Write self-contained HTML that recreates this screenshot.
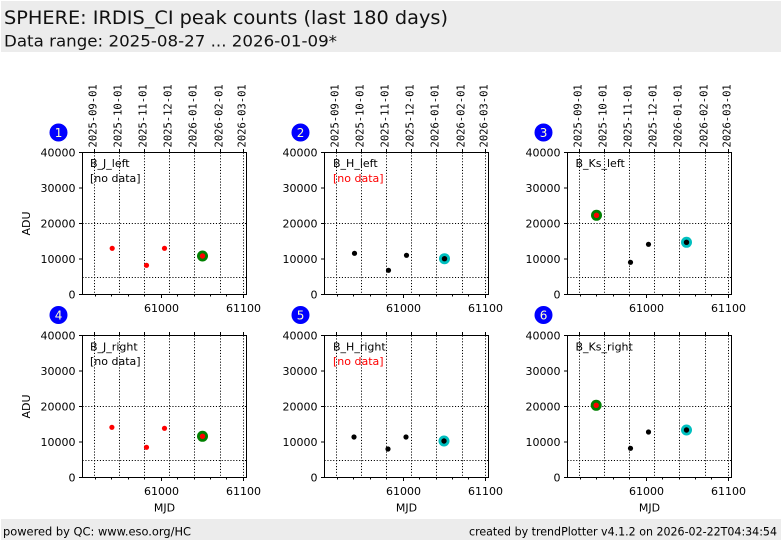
<!DOCTYPE html>
<html><head><meta charset="utf-8"><style>
html,body{margin:0;padding:0;background:#fff;}
svg{display:block;}
text{font-family:"DejaVu Sans","Liberation Sans",sans-serif;fill:#000;}
.mono{font-family:"DejaVu Sans Mono","Liberation Mono",monospace;font-size:10.5px;}
.tk{font-size:11px;}
.grid{stroke:#000;stroke-width:1;stroke-dasharray:1.1,1.8;fill:none;}
.ax{stroke:#000;stroke-width:1;fill:none;}
.bn{font-size:12px;fill:#ffffcc;}
</style></head><body>
<svg width="782" height="542" viewBox="0 0 782 542" xmlns="http://www.w3.org/2000/svg">
<rect x="1" y="1" width="780" height="51" fill="#ececec"/>
<text x="4" y="24" font-size="19" textLength="444" lengthAdjust="spacingAndGlyphs" style="fill:#111">SPHERE: IRDIS_CI peak counts (last 180 days)</text>
<text x="4" y="46.5" font-size="16" textLength="333" lengthAdjust="spacingAndGlyphs" style="fill:#111">Data range: 2025-08-27 ... 2026-01-09*</text>
<rect x="1" y="519" width="780" height="21" fill="#ececec"/>
<text x="3" y="535.5" font-size="11.5" textLength="188" lengthAdjust="spacingAndGlyphs">powered by QC: www.eso.org/HC</text>
<text x="469" y="535.5" font-size="11.5" textLength="308" lengthAdjust="spacingAndGlyphs">created by trendPlotter v4.1.2 on 2026-02-22T04:34:54</text>

<!-- Panel 1 -->
<g transform="translate(82.5,152.5)">
 <path class="grid" d="M12 0V142M37 0V142M62 0V142M87 0V142M112 0V142M138 0V142M161 0V142M0 71H164M0 125H164"/>
 <rect class="ax" x="0" y="0" width="164" height="142"/>
 <path class="ax" d="M0 0h-3.5M0 35.5h-3.5M0 71h-3.5M0 106.5h-3.5M0 142h-3.5M13 142v2M29 142v2M46 142v2M62 142v2M79 142v3.5M95 142v2M112 142v2M128 142v2M144 142v2M161 142v3.5M12 0v-3.5M37 0v-3.5M62 0v-3.5M87 0v-3.5M112 0v-3.5M138 0v-3.5M161 0v-3.5"/>
 <g class="tk" text-anchor="end"><text x="-7" y="4">40000</text><text x="-7" y="39.5">30000</text><text x="-7" y="75">20000</text><text x="-7" y="110.5">10000</text><text x="-7" y="146">0</text></g>
 <g class="tk" text-anchor="middle"><text x="79" y="159.5">61000</text><text x="161" y="159.5">61100</text></g>
 <text class="mono" transform="translate(13.8,-5) rotate(-90)">2025-09-01</text>
 <text class="mono" transform="translate(38.8,-5) rotate(-90)">2025-10-01</text>
 <text class="mono" transform="translate(63.8,-5) rotate(-90)">2025-11-01</text>
 <text class="mono" transform="translate(88.8,-5) rotate(-90)">2025-12-01</text>
 <text class="mono" transform="translate(113.8,-5) rotate(-90)">2026-01-01</text>
 <text class="mono" transform="translate(139.8,-5) rotate(-90)">2026-02-01</text>
 <text class="mono" transform="translate(162.8,-5) rotate(-90)">2026-03-01</text>
 <text class="tk" transform="translate(-52.5,71) rotate(-90)" text-anchor="middle">ADU</text>
 <circle cx="-24" cy="-20" r="9" fill="#0000ff"/><text class="bn" x="-24" y="-15.5" text-anchor="middle">1</text>
 <text class="tk" x="7.5" y="14.5">B_J_left</text>
 <text class="tk" x="7.5" y="29.5">[no data]</text>
 <circle cx="29.7" cy="95.8" r="2.6" fill="#ff0000"/>
 <circle cx="64" cy="112.8" r="2.6" fill="#ff0000"/>
 <circle cx="82" cy="95.8" r="2.6" fill="#ff0000"/>
 <circle cx="120" cy="103.5" r="5.5" fill="#008000"/><circle cx="120" cy="103.5" r="2.7" fill="#ff0000"/>
</g>

<!-- Panel 2 -->
<g transform="translate(324.5,152.5)">
 <path class="grid" d="M12 0V142M37 0V142M62 0V142M87 0V142M112 0V142M138 0V142M161 0V142M0 71H164M0 125H164"/>
 <rect class="ax" x="0" y="0" width="164" height="142"/>
 <path class="ax" d="M0 0h-3.5M0 35.5h-3.5M0 71h-3.5M0 106.5h-3.5M0 142h-3.5M13 142v2M29 142v2M46 142v2M62 142v2M79 142v3.5M95 142v2M112 142v2M128 142v2M144 142v2M161 142v3.5M12 0v-3.5M37 0v-3.5M62 0v-3.5M87 0v-3.5M112 0v-3.5M138 0v-3.5M161 0v-3.5"/>
 <g class="tk" text-anchor="end"><text x="-7" y="4">40000</text><text x="-7" y="39.5">30000</text><text x="-7" y="75">20000</text><text x="-7" y="110.5">10000</text><text x="-7" y="146">0</text></g>
 <g class="tk" text-anchor="middle"><text x="79" y="159.5">61000</text><text x="161" y="159.5">61100</text></g>
 <text class="mono" transform="translate(13.8,-5) rotate(-90)">2025-09-01</text>
 <text class="mono" transform="translate(38.8,-5) rotate(-90)">2025-10-01</text>
 <text class="mono" transform="translate(63.8,-5) rotate(-90)">2025-11-01</text>
 <text class="mono" transform="translate(88.8,-5) rotate(-90)">2025-12-01</text>
 <text class="mono" transform="translate(113.8,-5) rotate(-90)">2026-01-01</text>
 <text class="mono" transform="translate(139.8,-5) rotate(-90)">2026-02-01</text>
 <text class="mono" transform="translate(162.8,-5) rotate(-90)">2026-03-01</text>
 <circle cx="-24" cy="-20" r="9" fill="#0000ff"/><text class="bn" x="-24" y="-15.5" text-anchor="middle">2</text>
 <text class="tk" x="8.5" y="14.5">B_H_left</text>
 <text class="tk" x="8.5" y="29.5" style="fill:#ff0000">[no data]</text>
 <circle cx="30" cy="100.8" r="2.6" fill="#000"/>
 <circle cx="64" cy="117.8" r="2.6" fill="#000"/>
 <circle cx="82" cy="102.8" r="2.6" fill="#000"/>
 <circle cx="120" cy="106.2" r="5.5" fill="#00bfbf"/><circle cx="120" cy="106.2" r="2.7" fill="#000"/>
</g>

<!-- Panel 3 -->
<g transform="translate(567.5,152.5)">
 <path class="grid" d="M12 0V142M37 0V142M62 0V142M87 0V142M112 0V142M138 0V142M161 0V142M0 71H164M0 125H164"/>
 <rect class="ax" x="0" y="0" width="164" height="142"/>
 <path class="ax" d="M0 0h-3.5M0 35.5h-3.5M0 71h-3.5M0 106.5h-3.5M0 142h-3.5M13 142v2M29 142v2M46 142v2M62 142v2M79 142v3.5M95 142v2M112 142v2M128 142v2M144 142v2M161 142v3.5M12 0v-3.5M37 0v-3.5M62 0v-3.5M87 0v-3.5M112 0v-3.5M138 0v-3.5M161 0v-3.5"/>
 <g class="tk" text-anchor="end"><text x="-7" y="4">40000</text><text x="-7" y="39.5">30000</text><text x="-7" y="75">20000</text><text x="-7" y="110.5">10000</text><text x="-7" y="146">0</text></g>
 <g class="tk" text-anchor="middle"><text x="79" y="159.5">61000</text><text x="161" y="159.5">61100</text></g>
 <text class="mono" transform="translate(13.8,-5) rotate(-90)">2025-09-01</text>
 <text class="mono" transform="translate(38.8,-5) rotate(-90)">2025-10-01</text>
 <text class="mono" transform="translate(63.8,-5) rotate(-90)">2025-11-01</text>
 <text class="mono" transform="translate(88.8,-5) rotate(-90)">2025-12-01</text>
 <text class="mono" transform="translate(113.8,-5) rotate(-90)">2026-01-01</text>
 <text class="mono" transform="translate(139.8,-5) rotate(-90)">2026-02-01</text>
 <text class="mono" transform="translate(162.8,-5) rotate(-90)">2026-03-01</text>
 <circle cx="-24" cy="-20" r="9" fill="#0000ff"/><text class="bn" x="-24" y="-15.5" text-anchor="middle">3</text>
 <text class="tk" x="8" y="14.5">B_Ks_left</text>
 <circle cx="29" cy="62.8" r="5.5" fill="#008000"/><circle cx="29" cy="62.8" r="2.7" fill="#ff0000"/>
 <circle cx="63" cy="109.8" r="2.6" fill="#000"/>
 <circle cx="81" cy="91.8" r="2.6" fill="#000"/>
 <circle cx="119" cy="89.8" r="5.5" fill="#00bfbf"/><circle cx="119" cy="89.8" r="2.7" fill="#000"/>
</g>

<!-- Panel 4 -->
<g transform="translate(82.5,335.5)">
 <path class="grid" d="M12 0V142M37 0V142M62 0V142M87 0V142M112 0V142M138 0V142M161 0V142M0 71H164M0 125H164"/>
 <rect class="ax" x="0" y="0" width="164" height="142"/>
 <path class="ax" d="M0 0h-3.5M0 35.5h-3.5M0 71h-3.5M0 106.5h-3.5M0 142h-3.5M13 142v2M29 142v2M46 142v2M62 142v2M79 142v3.5M95 142v2M112 142v2M128 142v2M144 142v2M161 142v3.5M12 0v-3.5M37 0v-3.5M62 0v-3.5M87 0v-3.5M112 0v-3.5M138 0v-3.5M161 0v-3.5"/>
 <g class="tk" text-anchor="end"><text x="-7" y="4">40000</text><text x="-7" y="39.5">30000</text><text x="-7" y="75">20000</text><text x="-7" y="110.5">10000</text><text x="-7" y="146">0</text></g>
 <g class="tk" text-anchor="middle"><text x="79" y="159.5">61000</text><text x="161" y="159.5">61100</text><text x="82" y="176">MJD</text></g>
 <text class="tk" transform="translate(-52.5,71) rotate(-90)" text-anchor="middle">ADU</text>
 <circle cx="-24" cy="-20.5" r="9" fill="#0000ff"/><text class="bn" x="-24" y="-16" text-anchor="middle">4</text>
 <text class="tk" x="7.5" y="15">B_J_right</text>
 <text class="tk" x="7.5" y="29.5">[no data]</text>
 <circle cx="29.4" cy="91.8" r="2.6" fill="#ff0000"/>
 <circle cx="64" cy="111.8" r="2.6" fill="#ff0000"/>
 <circle cx="82" cy="92.8" r="2.6" fill="#ff0000"/>
 <circle cx="120" cy="100.8" r="5.5" fill="#008000"/><circle cx="120" cy="100.8" r="2.7" fill="#ff0000"/>
</g>

<!-- Panel 5 -->
<g transform="translate(324.5,335.5)">
 <path class="grid" d="M12 0V142M37 0V142M62 0V142M87 0V142M112 0V142M138 0V142M161 0V142M0 71H164M0 125H164"/>
 <rect class="ax" x="0" y="0" width="164" height="142"/>
 <path class="ax" d="M0 0h-3.5M0 35.5h-3.5M0 71h-3.5M0 106.5h-3.5M0 142h-3.5M13 142v2M29 142v2M46 142v2M62 142v2M79 142v3.5M95 142v2M112 142v2M128 142v2M144 142v2M161 142v3.5M12 0v-3.5M37 0v-3.5M62 0v-3.5M87 0v-3.5M112 0v-3.5M138 0v-3.5M161 0v-3.5"/>
 <g class="tk" text-anchor="end"><text x="-7" y="4">40000</text><text x="-7" y="39.5">30000</text><text x="-7" y="75">20000</text><text x="-7" y="110.5">10000</text><text x="-7" y="146">0</text></g>
 <g class="tk" text-anchor="middle"><text x="79" y="159.5">61000</text><text x="161" y="159.5">61100</text><text x="82" y="176">MJD</text></g>
 <circle cx="-24" cy="-20.5" r="9" fill="#0000ff"/><text class="bn" x="-24" y="-16" text-anchor="middle">5</text>
 <text class="tk" x="8.5" y="15">B_H_right</text>
 <text class="tk" x="8.5" y="29.5" style="fill:#ff0000">[no data]</text>
 <circle cx="29.5" cy="101.5" r="2.6" fill="#000"/>
 <circle cx="63.5" cy="113.5" r="2.6" fill="#000"/>
 <circle cx="81.5" cy="101.5" r="2.6" fill="#000"/>
 <circle cx="119.5" cy="105.5" r="5.5" fill="#00bfbf"/><circle cx="119.5" cy="105.5" r="2.7" fill="#000"/>
</g>

<!-- Panel 6 -->
<g transform="translate(567.5,335.5)">
 <path class="grid" d="M12 0V142M37 0V142M62 0V142M87 0V142M112 0V142M138 0V142M161 0V142M0 71H164M0 125H164"/>
 <rect class="ax" x="0" y="0" width="164" height="142"/>
 <path class="ax" d="M0 0h-3.5M0 35.5h-3.5M0 71h-3.5M0 106.5h-3.5M0 142h-3.5M13 142v2M29 142v2M46 142v2M62 142v2M79 142v3.5M95 142v2M112 142v2M128 142v2M144 142v2M161 142v3.5M12 0v-3.5M37 0v-3.5M62 0v-3.5M87 0v-3.5M112 0v-3.5M138 0v-3.5M161 0v-3.5"/>
 <g class="tk" text-anchor="end"><text x="-7" y="4">40000</text><text x="-7" y="39.5">30000</text><text x="-7" y="75">20000</text><text x="-7" y="110.5">10000</text><text x="-7" y="146">0</text></g>
 <g class="tk" text-anchor="middle"><text x="79" y="159.5">61000</text><text x="161" y="159.5">61100</text><text x="82" y="176">MJD</text></g>
 <circle cx="-24" cy="-20.5" r="9" fill="#0000ff"/><text class="bn" x="-24" y="-16" text-anchor="middle">6</text>
 <text class="tk" x="8" y="15">B_Ks_right</text>
 <circle cx="28.7" cy="69.8" r="5.5" fill="#008000"/><circle cx="28.7" cy="69.8" r="2.7" fill="#ff0000"/>
 <circle cx="63" cy="112.8" r="2.6" fill="#000"/>
 <circle cx="81" cy="96.5" r="2.6" fill="#000"/>
 <circle cx="119" cy="94.5" r="5.5" fill="#00bfbf"/><circle cx="119" cy="94.5" r="2.7" fill="#000"/>
</g>
</svg>
</body></html>
